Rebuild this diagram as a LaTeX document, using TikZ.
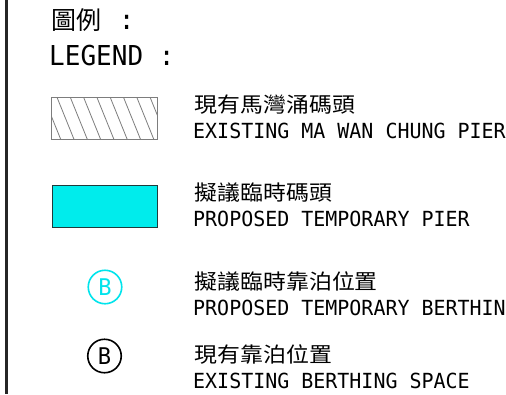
\documentclass[tikz,border=0pt]{standalone}
\usepackage{fontspec}
\newfontfamily\monofont[FakeStretch=0.96]{DejaVu Sans Mono}
\newfontfamily\titlemono[FakeStretch=0.95]{DejaVu Sans Mono}
\newfontfamily\cjkfont[FakeStretch=1.09]{Noto Sans CJK TC}
\newfontfamily\cjktitle{Noto Sans CJK TC}
\definecolor{cyanfill}{RGB}{0,236,236}
\definecolor{cyanline}{RGB}{0,228,236}
\definecolor{hatchgray}{RGB}{125,125,125}
\definecolor{rimdark}{RGB}{30,60,60}
\begin{document}
\begin{tikzpicture}[x=1pt,y=-1pt,
  zh/.style={anchor=base west, inner sep=0pt, font=\cjkfont\fontsize{21}{21}\selectfont},
  en/.style={anchor=base west, inner sep=0pt, font=\monofont\fontsize{20.8}{20.8}\selectfont},
  titlezh/.style={anchor=base west, inner sep=0pt, font=\cjktitle\fontsize{25}{25}\selectfont},
  titleen/.style={anchor=base west, inner sep=0pt, font=\titlemono\fontsize{27.4}{27.4}\selectfont},
  symbox/.style={minimum width=105.5pt, minimum height=42pt, inner sep=0pt},
  bmark/.style={circle, line width=1.6pt, minimum size=33.5pt, inner sep=0pt, font=\monofont\fontsize{23}{23}\selectfont}]
\useasboundingbox (0,0) rectangle (506,394);
\fill[white] (0,0) rectangle (506,394);
\clip (0,0) rectangle (506,394);
% left frame line
\draw[line width=2.2pt, draw=black!85] (6.5,0) -- (6.5,394);
% title
\node[titlezh] (t1) at (51,29.5) {圖例{\titlemono\fontsize{27.4}{27.4}\selectfont\hspace{2pt}\ :}};
\node[titleen] (t2) at (49,65.7) {LEGEND :};
% hatched existing pier
\node[symbox] (r1) at (104.5,118.3) {};
\begin{scope}
  \clip (r1.south west) rectangle (r1.north east);
  \foreach \k in {-1,...,7}
    \draw[hatchgray, line width=0.8pt] (57+13.3*\k,97.3) -- ++(17,42);
\end{scope}
\draw[hatchgray, line width=0.9pt] (r1.south west) rectangle (r1.north east);
% proposed temporary pier
\node[symbox, fill=cyanfill, draw=rimdark, line width=0.9pt] (r2) at (104.9,206.1) {};
% berthing symbols
\node[bmark, draw=cyanline, text=cyanline] (c1) at (105,287) {B};
\node[bmark, draw=black] (c2) at (104.5,356) {B};
% labels
\node[zh] (l1a) at (194.5,112.5) {現有馬灣涌碼頭};
\node[en] (l1b) at (193,138.5) {EXISTING MA WAN CHUNG PIER};
\node[zh] (l2a) at (194.5,200) {擬議臨時碼頭};
\node[en] (l2b) at (193,226) {PROPOSED TEMPORARY PIER};
\node[zh] (l3a) at (194.5,289) {擬議臨時靠泊位置};
\node[en] (l3b) at (193,315) {PROPOSED TEMPORARY BERTHIN};
\node[zh] (l4a) at (194.5,362) {現有靠泊位置};
\node[en] (l4b) at (193,388) {EXISTING BERTHING SPACE};
\end{tikzpicture}
\end{document}
